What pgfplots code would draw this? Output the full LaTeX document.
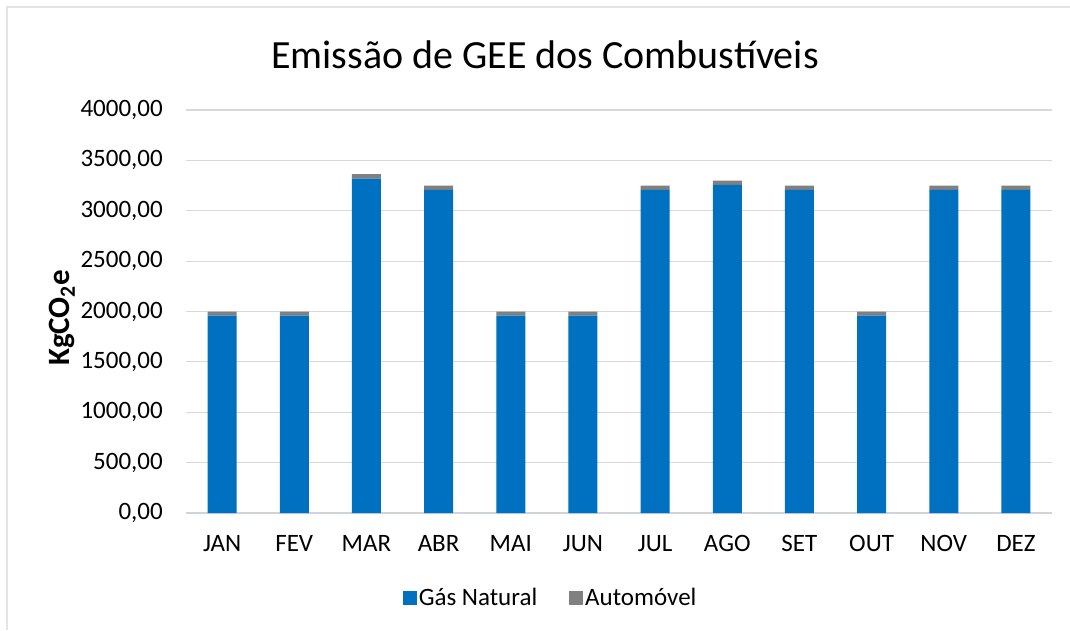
\documentclass[border=0pt]{standalone}
\usepackage{pgfplots}
\pgfplotsset{compat=1.18}
\usepackage{fontspec}
\setmainfont{Carlito}
\definecolor{gasblue}{HTML}{0070C0}
\definecolor{autogray}{HTML}{808080}
\definecolor{gridc}{HTML}{D9D9D9}
\definecolor{axisc}{HTML}{D0D4DA}
\begin{document}
\begin{tikzpicture}[x=1pt,y=1pt]
\useasboundingbox (0,0) rectangle (1070,630);
\fill[white] (0,0) rectangle (1070,630);
\draw[color=gridc!70, line width=1.5pt] (7,0) -- (7,623) -- (1070,623);
\node[font=\fontsize{40}{48}\selectfont] at (545,575) {Emissão de GEE dos Combustíveis};
\node[font=\fontsize{31}{38}\selectfont\bfseries, rotate=90] at (62,312) {KgCO\textsubscript{2}e};
\begin{axis}[
  at={(186pt,117pt)}, anchor=south west,
  scale only axis, width=866pt, height=403pt,
  ybar stacked, bar width=29pt,
  xmin=-0.5, xmax=11.5, ymin=0, ymax=4000,
  xtick=data,
  xticklabels={JAN,FEV,MAR,ABR,MAI,JUN,JUL,AGO,SET,OUT,NOV,DEZ},
  ytick={0,500,...,4000},
  major tick length=0pt,
  axis x line*=bottom, axis y line*=left,
  y axis line style={draw=none},
  x axis line style={color=axisc, line width=1.5pt, -},
  ymajorgrids, major grid style={color=gridc, line width=1.2pt},
  /pgf/number format/.cd, fixed, fixed zerofill, precision=2, use comma, 1000 sep={}, assume math mode=true,
  /pgfplots/.cd,
  yticklabel style={anchor=east, inner sep=0pt, xshift=-23pt, font=\fontsize{25}{30}\selectfont, text=black},
  xticklabel style={anchor=north, inner sep=0pt, yshift=-22pt, font=\fontsize{25}{30}\selectfont, text=black},
  legend columns=2,
  legend style={at={(0.421,-0.211)}, anchor=center, draw=none, fill=none,
    font=\fontsize{25}{30}\selectfont,
    /tikz/every even column/.append style={column sep=30pt}},
  legend image code/.code={\fill[#1] (-3pt,-7pt) rectangle (11pt,7pt);},
]
\addplot[fill=gasblue, draw=none] coordinates {
(0,1958) (1,1958) (2,3318) (3,3206) (4,1958) (5,1958)
(6,3206) (7,3256) (8,3206) (9,1958) (10,3206) (11,3206)};
\addplot[fill=autogray, draw=none] coordinates {
(0,42) (1,42) (2,46) (3,43) (4,42) (5,42)
(6,43) (7,43) (8,43) (9,42) (10,43) (11,43)};
\legend{Gás Natural, Automóvel}
\end{axis}
\end{tikzpicture}
\end{document}
